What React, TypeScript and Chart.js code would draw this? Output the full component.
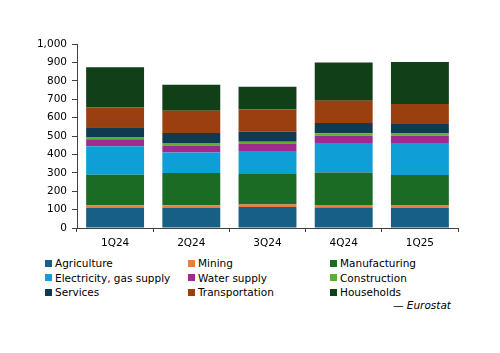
import React, { useEffect, useRef } from "react";
import { Chart, registerables } from "chart.js";

Chart.register(...registerables);

const categories = ["1Q24", "2Q24", "3Q24", "4Q24", "1Q25"];
const seriesNames = [
  "Agriculture",
  "Mining",
  "Manufacturing",
  "Electricity, gas supply",
  "Water supply",
  "Construction",
  "Services",
  "Transportation",
  "Households",
];
const agriculture = [110, 110, 114, 112, 109];
const mining = [13, 13, 14, 13, 13];
const manufacturing = [167, 176, 165, 177, 166];
const electricity = [154, 112, 125, 160, 174];
const waterSupply = [38, 38, 38, 40, 40];
const construction = [13, 13, 13, 13, 11];
const services = [52, 54, 54, 56, 52];
const transportation = [109, 121, 123, 120, 109];
const households = [217, 141, 121, 208, 228];
const yTicks = [0, 100, 200, 300, 400, 500, 600, 700, 800, 900, 1000];

const seriesValues = [
  agriculture,
  mining,
  manufacturing,
  electricity,
  waterSupply,
  construction,
  services,
  transportation,
  households,
];
const colors = [
  "#175f84",
  "#ee7d3a",
  "#1c6b24",
  "#0f9fd7",
  "#9e2c8f",
  "#5cb030",
  "#103a52",
  "#9a4010",
  "#113f17",
];

const FONT = "'DejaVu Sans', sans-serif";

export default function App() {
  const ref = useRef<HTMLCanvasElement>(null);
  useEffect(() => {
    if (!ref.current) return;
    const chart = new Chart(ref.current, {
      type: "bar",
      data: {
        labels: categories,
        datasets: seriesNames.map((name, i) => ({
          label: name,
          data: seriesValues[i],
          backgroundColor: colors[i],
          borderWidth: 0,
          categoryPercentage: 0.76,
          barPercentage: 1,
        })),
      },
      options: {
        animation: false,
        responsive: false,
        maintainAspectRatio: false,
        layout: { padding: { top: 44, right: 42, left: 0, bottom: 0 } },
        plugins: { legend: { display: false }, tooltip: { enabled: false } },
        scales: {
          x: {
            stacked: true,
            grid: {
              drawOnChartArea: false,
              drawTicks: true,
              tickLength: 4,
              color: "#404040",
            },
            border: { color: "#404040", width: 1 },
            ticks: { color: "#000", font: { family: FONT, size: 10.5 }, padding: 5 },
            afterFit: (s: any) => {
              s.height = 24;
            },
          },
          y: {
            stacked: true,
            min: 0,
            max: 1000,
            afterBuildTicks: (s: any) => {
              s.ticks = yTicks.map((v) => ({ value: v }));
            },
            grid: {
              drawOnChartArea: false,
              drawTicks: true,
              tickLength: 5,
              color: "#404040",
            },
            border: { color: "#404040", width: 1 },
            ticks: {
              color: "#000",
              font: { family: FONT, size: 10.5 },
              padding: 5,
              callback: (v: any) => Number(v).toLocaleString("en-US"),
            },
            afterFit: (s: any) => {
              s.width = 77;
            },
          },
        },
      },
    });
    return () => chart.destroy();
  }, []);

  const colX = [45, 188, 330];
  const rowY = [263, 277.5, 292];

  return (
    <div
      style={{
        position: "fixed",
        left: 0,
        top: 0,
        width: 500,
        height: 353,
        background: "#fff",
        fontFamily: FONT,
      }}
    >
      <canvas ref={ref} width={500} height={252} style={{ position: "absolute", left: 0, top: 0 }} />
      {seriesNames.map((name, i) => (
        <div
          key={name}
          style={{
            position: "absolute",
            left: colX[i % 3],
            top: rowY[Math.floor(i / 3)] - 7,
            height: 14,
            display: "flex",
            alignItems: "center",
            fontSize: 10.5,
            color: "#000",
            whiteSpace: "nowrap",
          }}
        >
          <span
            style={{
              display: "inline-block",
              width: 7,
              height: 7,
              background: colors[i],
              marginRight: 3,
            }}
          />
          {name}
        </div>
      ))}
      <div
        style={{
          position: "absolute",
          right: 49,
          top: 298,
          height: 14,
          lineHeight: "14px",
          fontSize: 10.5,
          fontStyle: "italic",
          color: "#000",
          whiteSpace: "nowrap",
        }}
      >
        — Eurostat
      </div>
    </div>
  );
}
